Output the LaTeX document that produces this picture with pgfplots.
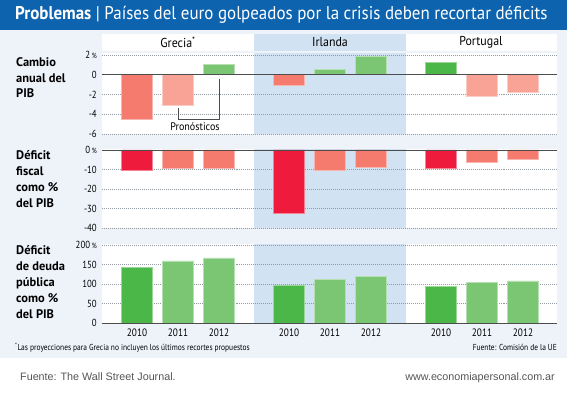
\documentclass[border=0pt]{standalone}
\usepackage{pgfplots}
\pgfplotsset{compat=1.18}
\usepackage{fontspec}
\setmainfont{PT Sans}
\newfontfamily\cond[FakeStretch=0.86]{PT Sans}
\newfontfamily\condb[FakeStretch=0.92]{PT Sans}
\newfontfamily\arial{Liberation Sans}
\definecolor{titleblue}{HTML}{0D63AE}
\definecolor{bgc}{HTML}{EEF3FA}
\definecolor{irl}{HTML}{D1E2F3}
\definecolor{crim}{HTML}{EE1B3D}
\definecolor{salm}{HTML}{F47B6E}
\definecolor{lsalm}{HTML}{F8A396}
\definecolor{gdark}{HTML}{4BB748}
\definecolor{glight}{HTML}{7BC673}
\definecolor{gridc}{HTML}{959BA3}
\definecolor{zeroc}{HTML}{4D4D4D}
\definecolor{footc}{HTML}{555555}
\pgfplotsset{
  panel/.style={
    scale only axis, width=455bp, xmin=0, xmax=455,
    axis line style={draw=none}, xtick=\empty,
    major tick length=0pt,
    ymajorgrids, grid style={gridc, line width=0.6pt, dash pattern=on 0.6pt off 1.4pt},
    yticklabel style={font=\cond\fontsize{10.3}{10}\selectfont, anchor=east, xshift=-5bp, inner sep=0pt},
    clip=false,
  },
  b/.style={ybar, bar shift=0pt, bar width=31, fill=#1, draw=#1!55!white, line width=0.7pt},
}
\newcommand{\pc}{\,{\fontsize{7.5}{8}\selectfont\%}}
\begin{document}
\begin{tikzpicture}
\path (0bp,0bp) rectangle (572bp,397bp);
% background
\fill[titleblue] (0bp,397bp) rectangle (567bp,367bp);
\fill[bgc] (0bp,367bp) rectangle (567bp,39bp);
\foreach \ya/\yb in {363/346, 344/262.5, 247.5/168.5, 152.5/74}{
  \fill[white] (102bp,\ya bp) rectangle (557bp,\yb bp);
  \fill[irl] (254bp,\ya bp) rectangle (406bp,\yb bp);
}
\node[anchor=west, text=white, inner sep=0pt, font=\condb\fontsize{18.5}{18}\selectfont] at (15bp,382bp) {\bfseries Problemas\mdseries\ | Países del euro golpeados por la crisis deben recortar déficits};
% headers
\node[font=\condb\fontsize{13}{12}\selectfont, inner sep=0pt] at (178bp,354.5bp) {Grecia\textsuperscript{*}};
\node[font=\condb\fontsize{13}{12}\selectfont, inner sep=0pt] at (330bp,354.5bp) {Irlanda};
\node[font=\condb\fontsize{13}{12}\selectfont, inner sep=0pt] at (481bp,354.5bp) {Portugal};
% left labels
\foreach \yy/\lab in {66.7/Cambio, 82.3/anual del, 97.8/PIB,
                     160/Déficit, 176/fiscal, 192/como \%, 208/del PIB,
                     255/Déficit, 271/de deuda, 287/pública, 303/como \%, 318.5/del PIB}
  \node[anchor=base west, inner sep=0pt, font=\bfseries\fontsize{12.5}{13}\selectfont] at (16bp,397bp-\yy bp) {\lab};
% panel 1
\begin{axis}[panel, at={(102bp,263bp)}, anchor=south west, height=79bp,
  ymin=-6, ymax=2, ytick={-6,-4,-2,0,2}, yticklabels={-6,-4,-2,0,{2\pc}}]
\addplot[b=salm] coordinates {(35,-4.5) (187,-1.03)};
\addplot[b=lsalm] coordinates {(76,-3.07) (380,-2.23) (421,-1.83)};
\addplot[b=glight] coordinates {(117,1.07) (228,0.57) (269,1.83)};
\addplot[b=gdark] coordinates {(339,1.23)};
\draw[zeroc, line width=0.9pt] (axis cs:0,0) -- (axis cs:455,0);
\draw[zeroc, line width=0.7pt] (axis cs:76.5,-3.4) -- (axis cs:76.5,-4.5) -- (axis cs:117.3,-4.5) -- (axis cs:117.3,-0.43);
\node[font=\condb\fontsize{11}{10}\selectfont, inner sep=0pt] at (axis cs:93,-5.25) {Pronósticos};
\end{axis}
% panel 2
\begin{axis}[panel, at={(102bp,168.7bp)}, anchor=south west, height=78.3bp,
  ymin=-40, ymax=0, ytick={-40,-30,-20,-10,0}, yticklabels={-40,-30,-20,-10,{0\pc}}]
\addplot[b=crim] coordinates {(35,-10.6) (187,-32.5) (339,-9.4)};
\addplot[b=salm] coordinates {(76,-9.5) (117,-9.5) (228,-10.5) (269,-9.0) (380,-6.1) (421,-4.6)};
\draw[zeroc, line width=0.9pt] (axis cs:0,0) -- (axis cs:455,0);
\end{axis}
% panel 3
\begin{axis}[panel, at={(102bp,74bp)}, anchor=south west, height=78bp,
  ymin=0, ymax=200, ytick={0,50,100,150,200}, yticklabels={0,50,100,150,{200\pc}},
  xtick={35,76,117,187,228,269,339,380,421},
  xticklabels={2010,2011,2012,2010,2011,2012,2010,2011,2012},
  xticklabel style={font=\cond\fontsize{10.8}{11}\selectfont, inner sep=0pt, anchor=base, yshift=-13.5bp}]
\addplot[b=gdark] coordinates {(35,143) (187,97) (339,94)};
\addplot[b=glight] coordinates {(76,159) (117,167) (228,112) (269,119) (380,103) (421,108)};
\draw[zeroc, line width=0.9pt] (axis cs:0,0) -- (axis cs:455,0);
\end{axis}
% footnotes
\node[anchor=base west, inner sep=0pt, font=\cond\fontsize{8.7}{8}\selectfont] at (15bp,46bp) {\textsuperscript{*}Las proyecciones para Grecia no incluyen los últimos recortes propuestos};
\node[anchor=base east, inner sep=0pt, font=\cond\fontsize{8.7}{8}\selectfont] at (557bp,46bp) {Fuente: Comisión de la UE};
\node[anchor=base west, inner sep=0pt, text=footc, font=\arial\fontsize{10.8}{10}\selectfont] at (20bp,17bp) {Fuente: The Wall Street Journal.};
\node[anchor=base east, inner sep=0pt, text=footc, font=\arial\fontsize{10.8}{10}\selectfont] at (555bp,17bp) {www.economiapersonal.com.ar};
\end{tikzpicture}
\end{document}
